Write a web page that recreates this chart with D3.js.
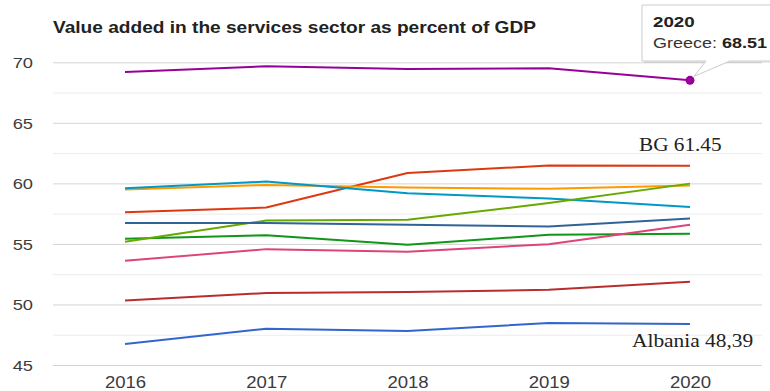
<!DOCTYPE html>
<html>
<head>
<meta charset="utf-8">
<script src="https://cdn.jsdelivr.net/npm/d3@7"></script>
<style>
  html, body { margin: 0; padding: 0; background: #fff; }
  svg { display: block; }
</style>
</head>
<body>
<svg id="chart" width="770" height="391"></svg>
<script>
// Services value added, % of GDP, 2016-2020
const years = ["2016", "2017", "2018", "2019", "2020"];
const yTicks = [45, 50, 55, 60, 65, 70];
const yMinorTicks = [47.5, 52.5, 57.5, 62.5, 67.5];

const countries = ["Albania", "Bulgaria", "Croatia", "North Macedonia", "Greece",
                   "Montenegro", "Romania", "Slovenia", "Serbia", "Bosnia and Herzegovina"];
const colors = ["#3366cc", "#dc3912", "#ff9900", "#109618", "#990099",
                "#0099c6", "#dd4477", "#66aa00", "#b82e2e", "#316395"];

const albania    = [46.73, 48.00, 47.80, 48.47, 48.39];
const bulgaria   = [57.62, 58.00, 60.86, 61.47, 61.45];
const croatia    = [59.49, 59.87, 59.66, 59.55, 59.83];
const macedonia  = [55.42, 55.72, 54.93, 55.75, 55.83];
const greece     = [69.20, 69.67, 69.45, 69.50, 68.51];
const montenegro = [59.60, 60.15, 59.19, 58.75, 58.04];
const romania    = [53.60, 54.57, 54.35, 54.98, 56.58];
const slovenia   = [55.17, 56.93, 56.99, 58.37, 59.98];
const serbia     = [50.33, 50.94, 51.03, 51.21, 51.87];
const bosnia     = [56.72, 56.72, 56.58, 56.44, 57.10];

const seriesValues = [albania, bulgaria, croatia, macedonia, greece,
                      montenegro, romania, slovenia, serbia, bosnia];

const title = "Value added in the services sector as percent of GDP";
const tooltipYear = "2020";
const tooltipCountry = "Greece";
const bgLabel = "BG 61.45";
const albaniaLabel = "Albania 48,39";

const series = countries.map((name, i) => ({
  name, color: colors[i],
  values: seriesValues[i].map((v, j) => ({ year: years[j], value: v }))
}));

const svg = d3.select("#chart");
const plotLeft = 53, plotRight = 762;

const x = d3.scalePoint().domain(years).range([125, 690]);
const y = d3.scaleLinear().domain([45, 70]).range([365, 62.3]);

// Horizontally widened text, as the chart's type is set
function wideText(parent, px, py, txt, opts) {
  const g = parent.append("g").attr("transform", `translate(${px},${py})`);
  const t = g.append("text")
    .attr("transform", `scale(${opts.sx || 1},1)`)
    .attr("text-anchor", opts.anchor || "start")
    .attr("font-family", opts.family || "'Liberation Sans', Arial, sans-serif")
    .attr("font-size", opts.size)
    .attr("font-weight", opts.weight || "normal")
    .attr("fill", opts.fill || "#222");
  if (txt !== null) t.text(txt);
  return t;
}

// Minor gridlines
svg.append("g")
  .attr("transform", `translate(${plotLeft},0)`)
  .call(d3.axisLeft(y).tickValues(yMinorTicks).tickSize(-(plotRight - plotLeft)).tickFormat(""))
  .call(g => g.select(".domain").remove())
  .call(g => g.selectAll(".tick line").attr("stroke", "#ececec").attr("stroke-width", 1));

// Major gridlines + labels
const yAxisG = svg.append("g")
  .attr("transform", `translate(${plotLeft},0)`)
  .call(d3.axisLeft(y).tickValues(yTicks).tickSize(-(plotRight - plotLeft)).tickPadding(0))
  .call(g => g.select(".domain").remove())
  .call(g => g.selectAll(".tick line").attr("stroke", "#d4d4d4").attr("stroke-width", 1));
yAxisG.selectAll(".tick text")
  .attr("x", 0)
  .attr("dy", "0.36em")
  .attr("text-anchor", "end")
  .attr("transform", "translate(-20,0) scale(1.22,1)")
  .attr("font-family", "'Liberation Sans', Arial, sans-serif")
  .attr("font-size", 15)
  .attr("fill", "#3c3c3c");

// X axis labels
const xAxisG = svg.append("g")
  .attr("transform", `translate(0,365)`)
  .call(d3.axisBottom(x).tickSize(0).tickPadding(0))
  .call(g => g.select(".domain").remove());
xAxisG.selectAll(".tick text")
  .attr("y", 0)
  .attr("dy", 0)
  .attr("transform", "translate(0,22.5) scale(1.16,1)")
  .attr("font-family", "'Liberation Sans', Arial, sans-serif")
  .attr("font-size", 16)
  .attr("fill", "#3c3c3c");

// Title
wideText(svg, plotLeft, 33.3, title, { size: 16, weight: "bold", sx: 1.195, fill: "#222" });

// Lines
const line = d3.line().x(d => x(d.year)).y(d => y(d.value));
svg.append("g")
  .selectAll("path")
  .data(series)
  .join("path")
  .attr("d", d => line(d.values))
  .attr("fill", "none")
  .attr("stroke", d => d.color)
  .attr("stroke-width", 2)
  .attr("stroke-linejoin", "round");

// Highlighted point
const hl = series.find(s => s.name === tooltipCountry);
const hp = hl.values.find(v => v.year === tooltipYear);
const hx = x(hp.year), hy = y(hp.value);

// Tooltip
const tip = svg.append("g");
const boxL = 642, boxT = 5, boxB = 61, boxR = 785;
tip.append("path")
  .attr("d", `M${boxL + 2},${boxT + 2}H${boxR}V${boxB + 2}H${boxL + 2}Z`)
  .attr("fill", "#000").attr("opacity", 0.08);
tip.append("path")
  .attr("d", `M${boxL},${boxT}H${boxR}V${boxB}H${hx + 40}L${hx + 4},${hy - 4}L${hx + 16},${boxB}H${boxL}Z`)
  .attr("fill", "#fff")
  .attr("stroke", "#cccccc")
  .attr("stroke-width", 1);
wideText(tip, 653, 27, tooltipYear, { size: 15, weight: "bold", sx: 1.25, fill: "#222" });
const tline = wideText(tip, 653, 48, null, { size: 15, sx: 1.2, fill: "#333" });
tline.append("tspan").text(tooltipCountry + ": ");
tline.append("tspan").attr("font-weight", "bold").attr("fill", "#222").text(d3.format(".2f")(hp.value));

svg.append("circle")
  .attr("cx", hx).attr("cy", hy).attr("r", 4.5)
  .attr("fill", hl.color);

// Annotations
const bg = series.find(s => s.name === "Bulgaria").values[4];
wideText(svg, 639, y(bg.value) - 14.5, bgLabel,
  { size: 18, sx: 1.18, family: "'Liberation Serif', 'Times New Roman', serif", fill: "#222" });
const al = series.find(s => s.name === "Albania").values[4];
wideText(svg, 632, y(al.value) + 23.5, albaniaLabel,
  { size: 18, sx: 1.19, family: "'Liberation Serif', 'Times New Roman', serif", fill: "#222" });
</script>
</body>
</html>
